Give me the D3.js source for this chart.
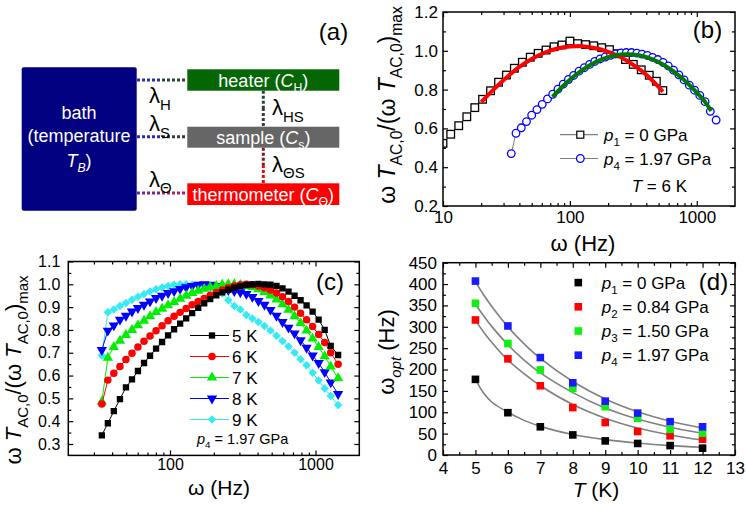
<!DOCTYPE html>
<html><head><meta charset="utf-8">
<script src="https://cdn.jsdelivr.net/npm/d3@7"></script>
<style>body{margin:0;background:#fff}</style>
</head><body>
<script>
// ---------- Panel (b) data ----------
const bFreqP1 = [10, 11.5, 13.3, 15.4, 17.8, 20.5, 23.7, 27.4, 31.6, 36.5, 42.2, 48.7, 56.2, 64.9, 75, 86.6, 100, 115, 133, 154, 178, 205, 237, 274, 316, 365, 422, 480, 540];
const bValP1 = [0.523, 0.570, 0.614, 0.660, 0.707, 0.750, 0.794, 0.838, 0.875, 0.910, 0.941, 0.967, 0.987, 1.004, 1.021, 1.030, 1.050, 1.037, 1.032, 1.026, 1.016, 1.006, 0.985, 0.955, 0.930, 0.902, 0.874, 0.843, 0.795];
const bFreqP4 = [34.5, 37.6, 41.4, 45.5, 50, 55, 60.5, 66.6, 73.2, 80.5, 88.6, 97.4, 107, 118, 130, 143, 157, 173, 190, 209, 230, 253, 278, 306, 337, 370, 407, 448, 493, 542, 596, 656, 722, 794, 873, 960, 1056, 1162, 1278, 1420];
const bValP4 = [0.470, 0.575, 0.603, 0.635, 0.668, 0.697, 0.724, 0.752, 0.776, 0.802, 0.828, 0.852, 0.873, 0.895, 0.913, 0.930, 0.945, 0.958, 0.968, 0.977, 0.984, 0.989, 0.991, 0.991, 0.988, 0.983, 0.976, 0.966, 0.955, 0.940, 0.922, 0.900, 0.876, 0.850, 0.823, 0.797, 0.770, 0.738, 0.688, 0.643];
const bFitP1F = [20, 25, 32, 40, 50, 63, 80, 100, 125, 160, 200, 250, 320, 400, 460, 540];
const bFitP1V = [0.735, 0.800, 0.865, 0.917, 0.958, 0.990, 1.012, 1.022, 1.024, 1.013, 0.995, 0.968, 0.925, 0.877, 0.838, 0.789];
const bFitP4F = [73, 90, 110, 140, 180, 230, 280, 350, 450, 580, 750, 950, 1150, 1300];
const bFitP4V = [0.763, 0.824, 0.874, 0.922, 0.957, 0.977, 0.982, 0.977, 0.956, 0.918, 0.864, 0.800, 0.740, 0.690];
const bLegend = ["= 0 GPa", "= 1.97 GPa"];
const bXMajor = [10, 100, 1000];
const bXMinor = [20,30,40,50,60,70,80,90,200,300,400,500,600,700,800,900];
const bYMajor = [0.2, 0.4, 0.6, 0.8, 1.0, 1.2];
const bYMinor = [0.3, 0.5, 0.7, 0.9, 1.1];

// ---------- Panel (c) data ----------
const cFreq = [34, 37.4, 41.1, 45.3, 49.8, 54.8, 60.2, 66.3, 72.9, 80.2, 88.2, 97, 106.7, 117.4, 129.1, 142, 156.2, 171.8, 189, 207.9, 228.7, 251.6, 276.7, 304.4, 334.8, 368.3, 405.1, 445.7, 490.2, 539.3, 593.2, 652.5, 717.8, 789.6, 868.5, 955.4, 1051, 1156, 1272, 1430];
const c5K = [0.338, 0.391, 0.444, 0.497, 0.548, 0.583, 0.620, 0.655, 0.687, 0.718, 0.747, 0.776, 0.803, 0.828, 0.851, 0.874, 0.897, 0.917, 0.935, 0.952, 0.965, 0.976, 0.985, 0.992, 0.997, 1.000, 1.002, 1.000, 0.998, 0.993, 0.982, 0.968, 0.950, 0.930, 0.908, 0.880, 0.845, 0.800, 0.730, 0.690];
const c6K = [0.475, 0.580, 0.610, 0.640, 0.670, 0.698, 0.725, 0.750, 0.773, 0.796, 0.818, 0.840, 0.860, 0.877, 0.894, 0.910, 0.925, 0.938, 0.952, 0.964, 0.975, 0.985, 0.993, 0.998, 1.000, 0.998, 0.993, 0.985, 0.975, 0.962, 0.945, 0.925, 0.900, 0.873, 0.845, 0.815, 0.780, 0.745, 0.700, 0.650];
const c7K = [0.485, 0.678, 0.725, 0.753, 0.778, 0.800, 0.820, 0.840, 0.860, 0.878, 0.893, 0.908, 0.922, 0.937, 0.950, 0.962, 0.972, 0.980, 0.987, 0.993, 0.998, 1.000, 1.000, 0.997, 0.993, 0.987, 0.978, 0.966, 0.951, 0.933, 0.912, 0.888, 0.860, 0.830, 0.797, 0.762, 0.725, 0.685, 0.640, 0.588];
const c8K = [0.712, 0.797, 0.820, 0.845, 0.862, 0.881, 0.896, 0.910, 0.925, 0.940, 0.950, 0.962, 0.970, 0.980, 0.987, 0.993, 0.998, 1.000, 0.998, 0.993, 0.985, 0.975, 0.970, 0.965, 0.958, 0.945, 0.927, 0.910, 0.888, 0.862, 0.835, 0.810, 0.785, 0.755, 0.722, 0.688, 0.655, 0.615, 0.570, 0.519];
const c9K = [0.688, 0.878, 0.890, 0.905, 0.918, 0.932, 0.945, 0.957, 0.968, 0.978, 0.986, 0.993, 0.998, 1.000, 1.000, 0.998, 0.995, 0.990, 0.985, 0.975, 0.960, 0.930, 0.905, 0.890, 0.865, 0.850, 0.835, 0.817, 0.797, 0.775, 0.752, 0.727, 0.700, 0.672, 0.645, 0.612, 0.578, 0.543, 0.510, 0.471];
const cLabels = ["5 K", "6 K", "7 K", "8 K", "9 K"];
const cXMajor = [100, 1000];
const cXMinor = [30,40,50,60,70,80,90,200,300,400,500,600,700,800,900];
const cYMajor = [0.3, 0.4, 0.5, 0.6, 0.7, 0.8, 0.9, 1.0, 1.1];
const cYMinor = [0.35, 0.45, 0.55, 0.65, 0.75, 0.85, 0.95, 1.05];

// ---------- Panel (d) data ----------
const dTemps = [5, 6, 7, 8, 9, 10, 11, 12];
const dP1 = [177, 99, 66, 47, 33, 27, 22, 16];
const dP2 = [316, 225, 162, 111, 76, 55, 45, 37];
const dP3 = [355, 261, 199, 156, 113, 86, 60, 51];
const dP4 = [407, 302, 228, 169, 126, 98, 78, 66];
const dFitT = [5, 5.25, 5.5, 6, 6.5, 7, 8, 9, 10, 11, 12];
const dFit1 = [177, 145, 124, 100, 81, 67, 48, 36, 28, 22, 18];
const dFit2 = [315, 288, 264, 222, 190, 162, 118, 86, 63, 47, 35];
const dFit3 = [352, 326, 301, 258, 222, 192, 146, 110, 84, 65, 51];
const dFit4 = [405, 375, 348, 300, 260, 226, 172, 131, 101, 79, 63];
const dLegendSub = ["1", "2", "3", "4"];
const dLegendTxt = [" = 0 GPa", " = 0.84 GPa", " = 1.50 GPa", " = 1.97 GPa"];
const dXMajor = [4,5,6,7,8,9,10,11,12,13];
const dXMinor = [4.5,5.5,6.5,7.5,8.5,9.5,10.5,11.5,12.5];
const dYMajor = [0,50,100,150,200,250,300,350,400,450];
const dYMinor = [25,75,125,175,225,275,325,375,425];

// ---------- helpers ----------
const FONT = '"Liberation Sans", Arial, Helvetica, sans-serif';
const svg = d3.select('body').append('svg').attr('width', 747).attr('height', 506)
  .style('background', '#fff');

function rich(parent, x, y, parts, size, opts) {
  opts = opts || {};
  const t = parent.append('text').attr('x', x).attr('y', y)
    .attr('font-size', size).attr('font-family', FONT)
    .attr('text-anchor', opts.anchor || 'start')
    .attr('fill', opts.fill || '#000')
    .style('white-space', 'pre');
  if (opts.transform) t.attr('transform', opts.transform);
  let shift = 0;
  parts.forEach(p => {
    const s = p.sub ? size * 0.3 : 0;
    const ts = t.append('tspan').attr('dy', s - shift)
      .attr('font-size', p.sub ? size * 0.68 : size).text(p.t);
    if (p.it) ts.attr('font-style', 'italic');
    shift = s;
  });
  return t;
}

function axes(x, y, c) {
  const g = svg.append('g');
  const [xl, xr] = x.range();
  const [yb, yt] = y.range();
  const none = () => '';
  const style = sel => {
    sel.select('.domain').remove();
    sel.attr('font-family', FONT).attr('font-size', c.fs);
    sel.selectAll('line').attr('stroke', '#000').attr('stroke-width', 1.2);
    sel.selectAll('text').attr('fill', '#000');
  };
  const add = (tr, ax) => g.append('g').attr('transform', tr).call(ax).call(style);
  add(`translate(0,${yb})`, d3.axisBottom(x).tickValues(c.xMajor).tickFormat(c.xFmt).tickSizeInner(-5).tickSizeOuter(0).tickPadding(c.xPad));
  add(`translate(0,${yb})`, d3.axisBottom(x).tickValues(c.xMinor).tickFormat(none).tickSizeInner(-3).tickSizeOuter(0));
  add(`translate(0,${yt})`, d3.axisTop(x).tickValues(c.xMajor).tickFormat(none).tickSizeInner(-5).tickSizeOuter(0));
  add(`translate(0,${yt})`, d3.axisTop(x).tickValues(c.xMinor).tickFormat(none).tickSizeInner(-3).tickSizeOuter(0));
  add(`translate(${xl},0)`, d3.axisLeft(y).tickValues(c.yMajor).tickFormat(c.yFmt).tickSizeInner(-5).tickSizeOuter(0).tickPadding(c.yPad));
  add(`translate(${xl},0)`, d3.axisLeft(y).tickValues(c.yMinor).tickFormat(none).tickSizeInner(-3).tickSizeOuter(0));
  add(`translate(${xr},0)`, d3.axisRight(y).tickValues(c.yMajor).tickFormat(none).tickSizeInner(-5).tickSizeOuter(0));
  add(`translate(${xr},0)`, d3.axisRight(y).tickValues(c.yMinor).tickFormat(none).tickSizeInner(-3).tickSizeOuter(0));
  g.append('rect').attr('x', xl).attr('y', yt).attr('width', xr - xl).attr('height', yb - yt)
    .attr('fill', 'none').attr('stroke', '#000').attr('stroke-width', 1.5);
}

function clip(id, x, y) {
  const [xl, xr] = x.range(); const [yb, yt] = y.range();
  svg.append('clipPath').attr('id', id).append('rect')
    .attr('x', xl).attr('y', yt).attr('width', xr - xl).attr('height', yb - yt);
  return svg.append('g').attr('clip-path', `url(#${id})`);
}

const sym = (type, size) => d3.symbol().type(type).size(size)();

// ---------- Panel (a) ----------
(function () {
  const g = svg.append('g');
  const boxL = 187.3, boxW = 152;
  const cx = 263.3;
  const dot = (x1, y1, x2, y2, col) => g.append('line').attr('x1', x1).attr('y1', y1).attr('x2', x2).attr('y2', y2)
    .attr('stroke', col).attr('stroke-width', 3).attr('stroke-dasharray', '3,2');
  dot(137, 80, 162, 80, '#2b2bb0'); dot(162, 80, 187, 80, '#1d4a30');
  dot(137, 136.7, 162, 136.7, '#2b2bb0'); dot(162, 136.7, 187, 136.7, '#3a3a4a');
  dot(137, 193, 162, 193, '#6a2aa8'); dot(162, 193, 187, 193, '#b02060');
  dot(cx, 90.7, cx, 108, '#1d4a30'); dot(cx, 108, cx, 126.7, '#3c3c3c');
  dot(cx, 147.7, cx, 165, '#7a1a1a'); dot(cx, 165, cx, 183.3, '#e01010');

  g.append('rect').attr('x', 21.7).attr('y', 67.3).attr('width', 115).attr('height', 143.4)
    .attr('rx', 2).attr('fill', '#000080');
  g.append('rect').attr('x', boxL).attr('y', 69.3).attr('width', boxW).attr('height', 21.4).attr('fill', '#056605');
  g.append('rect').attr('x', boxL).attr('y', 126.7).attr('width', boxW).attr('height', 21).attr('fill', '#666666');
  g.append('rect').attr('x', boxL).attr('y', 183.3).attr('width', boxW).attr('height', 21.7).attr('fill', '#ff0000');

  const W = { fill: '#fff', anchor: 'middle' };
  rich(g, 79, 119.3, [{ t: 'bath' }], 18, W);
  rich(g, 79, 142, [{ t: '(temperature' }], 18, W);
  rich(g, 79, 167, [{ t: 'T', it: true }, { t: 'B', sub: true, it: true }, { t: ')' }], 18, W);
  rich(g, cx, 86.5, [{ t: 'heater (' }, { t: 'C', it: true }, { t: 'H', sub: true }, { t: ')' }], 18, W);
  rich(g, cx, 143.5, [{ t: 'sample (' }, { t: 'C', it: true }, { t: 's', sub: true }, { t: ')' }], 18, W);
  rich(g, cx, 200.5, [{ t: 'thermometer (' }, { t: 'C', it: true }, { t: 'Θ', sub: true }, { t: ')' }], 18, W);

  rich(g, 149, 103, [{ t: 'λ' }, { t: 'H', sub: true }], 22);
  rich(g, 149, 131, [{ t: 'λ' }, { t: 'S', sub: true }], 22);
  rich(g, 149, 186.5, [{ t: 'λ' }, { t: 'Θ', sub: true }], 22);
  rich(g, 272, 115, [{ t: 'λ' }, { t: 'HS', sub: true }], 22);
  rich(g, 272, 171.5, [{ t: 'λ' }, { t: 'ΘS', sub: true }], 22);
  rich(g, 333.5, 40, [{ t: '(a)' }], 24, { anchor: 'middle' });
})();

// ---------- Panel (b) ----------
(function () {
  const x = d3.scaleLog().domain([10, 2000]).range([443, 735]);
  const y = d3.scaleLinear().domain([0.2, 1.2]).range([206, 12]);
  const g = clip('clipB', x, y);
  const line = d3.line().x(d => x(d[0])).y(d => y(d[1]));
  const p1 = bFreqP1.map((f, i) => [f, bValP1[i]]);
  const p4 = bFreqP4.map((f, i) => [f, bValP4[i]]);
  g.append('path').attr('d', line(p1)).attr('fill', 'none').attr('stroke', '#808080').attr('stroke-width', 1);
  g.append('path').attr('d', line(p4)).attr('fill', 'none').attr('stroke', '#808080').attr('stroke-width', 1);
  g.selectAll('.sq').data(p1).enter().append('rect')
    .attr('x', d => x(d[0]) - 3.8).attr('y', d => y(d[1]) - 3.8).attr('width', 7.6).attr('height', 7.6)
    .attr('fill', '#fff').attr('stroke', '#000').attr('stroke-width', 1.3);
  g.selectAll('.ci').data(p4).enter().append('circle')
    .attr('cx', d => x(d[0])).attr('cy', d => y(d[1])).attr('r', 3.8)
    .attr('fill', '#fff').attr('stroke', '#0000ff').attr('stroke-width', 1.3);
  const curve = d3.line().x(d => x(d[0])).y(d => y(d[1])).curve(d3.curveCatmullRom);
  g.append('path').attr('d', curve(bFitP1F.map((f, i) => [f, bFitP1V[i]])))
    .attr('fill', 'none').attr('stroke', '#ff0000').attr('stroke-width', 4);
  g.append('path').attr('d', curve(bFitP4F.map((f, i) => [f, bFitP4V[i]])))
    .attr('fill', 'none').attr('stroke', '#007a00').attr('stroke-width', 4);

  axes(x, y, { xMajor: bXMajor, xMinor: bXMinor, yMajor: bYMajor, yMinor: bYMinor,
    xFmt: d3.format('d'), yFmt: d3.format('.1f'), fs: 17, xPad: 5, yPad: 5 });

  const lg = svg.append('g');
  const rows = [134.7, 158.5];
  rows.forEach((ry, i) => {
    lg.append('line').attr('x1', 560).attr('x2', 598).attr('y1', ry).attr('y2', ry)
      .attr('stroke', '#808080').attr('stroke-width', 1.2);
    if (i === 0) lg.append('rect').attr('x', 580.3 - 3.5).attr('y', ry - 3.5).attr('width', 7).attr('height', 7)
      .attr('fill', '#fff').attr('stroke', '#000').attr('stroke-width', 1.2);
    else lg.append('circle').attr('cx', 580.3).attr('cy', ry).attr('r', 3.8)
      .attr('fill', '#fff').attr('stroke', '#0000ff').attr('stroke-width', 1.3);
    rich(lg, 604, ry + 6, [{ t: 'p', it: true }, { t: i === 0 ? '1' : '4', sub: true }, { t: ' ' + bLegend[i] }], 17);
  });
  rich(lg, 687, 192, [{ t: 'T', it: true }, { t: ' = 6 K' }], 17, { anchor: 'end' });
  rich(svg, 707.5, 38, [{ t: '(b)' }], 24, { anchor: 'middle' });
  rich(svg, 583, 251, [{ t: 'ω (Hz)' }], 22, { anchor: 'middle' });
  rich(svg, 0, 0, [{ t: 'ω ' }, { t: 'T', it: true }, { t: 'AC,0', sub: true }, { t: '/(ω ' }, { t: 'T', it: true },
    { t: 'AC,0', sub: true }, { t: ')' }, { t: 'max', sub: true }], 23,
    { anchor: 'middle', transform: 'translate(395,105) rotate(-90)' });
})();

// ---------- Panel (c) ----------
(function () {
  const x = d3.scaleLog().domain([20, 2000]).range([68.3, 359.3]);
  const y = d3.scaleLinear().domain([0.25, 1.1]).range([455.4, 261.5]);
  const series = [
    { v: c9K, col: '#33eaf5', shape: 'dia' },
    { v: c8K, col: '#0000ff', shape: 'tdown' },
    { v: c7K, col: '#00ee00', shape: 'tup' },
    { v: c6K, col: '#ff0000', shape: 'circ' },
    { v: c5K, col: '#000000', shape: 'sq' }
  ];
  const marker = (sel, shape, col) => {
    let p;
    if (shape === 'sq') p = sym(d3.symbolSquare, 40);
    else if (shape === 'circ') p = sym(d3.symbolCircle, 44);
    else if (shape === 'tup' || shape === 'tdown') p = sym(d3.symbolTriangle, 46);
    else p = sym(d3.symbolSquare, 36);
    const el = sel.append('path').attr('d', p).attr('fill', col);
    return { el, rot: shape === 'tdown' ? 180 : (shape === 'dia' ? 45 : 0) };
  };
  const g = clip('clipC', x, y);
  const line = d3.line().x(d => x(d[0])).y(d => y(d[1]));
  series.forEach(s => {
    const pts = cFreq.map((f, i) => [f, s.v[i]]);
    g.append('path').attr('d', line(pts)).attr('fill', 'none').attr('stroke', s.col).attr('stroke-width', 1);
    pts.forEach(d => {
      const m = marker(g, s.shape, s.col);
      m.el.attr('transform', `translate(${x(d[0])},${y(d[1])}) rotate(${m.rot})`);
    });
  });
  axes(x, y, { xMajor: cXMajor, xMinor: cXMinor, yMajor: cYMajor, yMinor: cYMinor,
    xFmt: d3.format('d'), yFmt: d3.format('.1f'), fs: 16, xPad: 3, yPad: 8 });

  const lg = svg.append('g');
  const order = [4, 3, 2, 1, 0];
  order.forEach((si, i) => {
    const s = series[si];
    const ry = 335.5 + 21 * i;
    lg.append('line').attr('x1', 190).attr('x2', 229).attr('y1', ry).attr('y2', ry)
      .attr('stroke', s.col).attr('stroke-width', 1);
    const m = marker(lg, s.shape, s.col);
    m.el.attr('transform', `translate(212,${ry}) rotate(${m.rot})`);
    rich(lg, 232, ry + 6, [{ t: cLabels[i] }], 17);
  });
  rich(svg, 197, 444, [{ t: 'p', it: true }, { t: '4', sub: true }, { t: ' = 1.97 GPa' }], 14.5);
  rich(svg, 330, 290, [{ t: '(c)' }], 24, { anchor: 'middle' });
  rich(svg, 219, 495, [{ t: 'ω (Hz)' }], 21, { anchor: 'middle' });
  rich(svg, 0, 0, [{ t: 'ω ' }, { t: 'T', it: true }, { t: 'AC,0', sub: true }, { t: '/(ω ' }, { t: 'T', it: true },
    { t: 'AC,0', sub: true }, { t: ')' }, { t: 'max', sub: true }], 22,
    { anchor: 'middle', transform: 'translate(21,370) rotate(-90)' });
})();

// ---------- Panel (d) ----------
(function () {
  const x = d3.scaleLinear().domain([4, 13]).range([443, 735]);
  const y = d3.scaleLinear().domain([0, 450]).range([455, 262.7]);
  const cols = ['#000000', '#ff0000', '#11ee11', '#1a1aff'];
  const data = [dP1, dP2, dP3, dP4];
  const fits = [dFit1, dFit2, dFit3, dFit4];
  const curve = d3.line().x(d => x(d[0])).y(d => y(d[1])).curve(d3.curveCatmullRom);
  fits.forEach(f => {
    svg.append('path').attr('d', curve(dFitT.map((t, i) => [t, f[i]])))
      .attr('fill', 'none').attr('stroke', '#808080').attr('stroke-width', 1.6);
  });
  data.forEach((arr, k) => {
    svg.append('g').selectAll('rect').data(dTemps.map((t, i) => [t, arr[i]])).enter().append('rect')
      .attr('x', d => x(d[0]) - 3.8).attr('y', d => y(d[1]) - 3.8).attr('width', 7.6).attr('height', 7.6)
      .attr('fill', cols[k]);
  });
  axes(x, y, { xMajor: dXMajor, xMinor: dXMinor, yMajor: dYMajor, yMinor: dYMinor,
    xFmt: d3.format('d'), yFmt: d3.format('d'), fs: 17, xPad: 7, yPad: 6 });
  const lg = svg.append('g');
  cols.forEach((c, i) => {
    const ry = 282.6 + 24.2 * i;
    lg.append('rect').attr('x', 578.3 - 3.8).attr('y', ry - 3.8).attr('width', 7.6).attr('height', 7.6).attr('fill', c);
    rich(lg, 601.7, ry + 6, [{ t: 'p', it: true }, { t: dLegendSub[i], sub: true }, { t: dLegendTxt[i] }], 17);
  });
  rich(svg, 713.5, 290, [{ t: '(d)' }], 24, { anchor: 'middle' });
  rich(svg, 596, 497, [{ t: 'T', it: true }, { t: ' (K)' }], 21, { anchor: 'middle' });
  rich(svg, 0, 0, [{ t: 'ω' }, { t: 'opt', sub: true, it: true }, { t: ' (Hz)' }], 22,
    { anchor: 'middle', transform: 'translate(394,352) rotate(-90)' });
})();
</script>
</body></html>
